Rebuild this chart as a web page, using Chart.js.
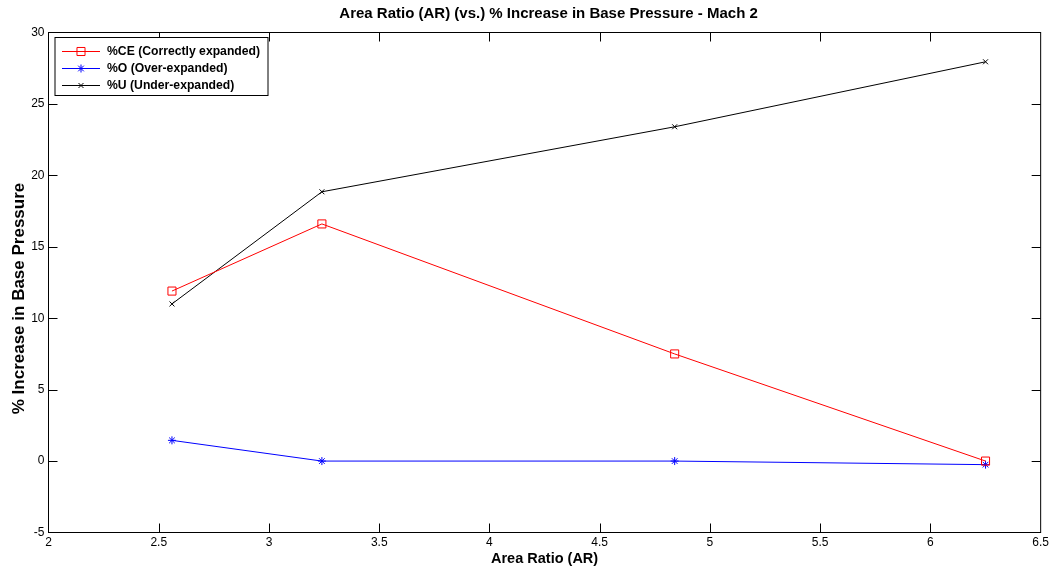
<!DOCTYPE html>
<html>
<head>
<meta charset="utf-8">
<title>Area Ratio vs % Increase in Base Pressure - Mach 2</title>
<script src="https://cdn.jsdelivr.net/npm/chart.js@4.4.1/dist/chart.umd.min.js"></script>
<style>
  html, body { margin: 0; padding: 0; background: #ffffff; }
  #wrap { width: 1052px; height: 569px; }
</style>
</head>
<body>
<div id="wrap"><canvas id="chart" width="1052" height="569"></canvas></div>
<script>
// Area ratios tested (x values)
const areaRatio = [2.56, 3.24, 4.84, 6.25];

// % increase in base pressure per expansion case
const pctCorrect = [11.9, 16.6, 7.5, 0.0];
const pctOver = [1.45, 0.0, 0.0, -0.25];
const pctUnder = [11.0, 18.85, 23.4, 27.95];

const seriesLabels = ['%CE (Correctly expanded)', '%O (Over-expanded)', '%U (Under-expanded)'];

// Axis ticks
const xTickValues = [2, 2.5, 3, 3.5, 4, 4.5, 5, 5.5, 6, 6.5];
const xTickLabels = ['2', '2.5', '3', '3.5', '4', '4.5', '5', '5.5', '6', '6.5'];
const yTickValues = [-5, 0, 5, 10, 15, 20, 25, 30];
const yTickLabels = ['-5', '0', '5', '10', '15', '20', '25', '30'];

const chartTitle = 'Area Ratio (AR) (vs.) % Increase in Base Pressure - Mach 2';
const xTitle = 'Area Ratio (AR)';
const yTitle = '% Increase in Base Pressure';

const FONT = '"Liberation Sans", Arial, Helvetica, sans-serif';

function toPoints(xs, ys) {
  return xs.map((x, i) => ({ x: x, y: ys[i] }));
}

// Boxed axes with inward tick marks on all four sides
const boxAxes = {
  id: 'boxAxes',
  afterDatasetsDraw(chart) {
    const { ctx, chartArea: a, scales } = chart;
    const len = 9;
    ctx.save();
    ctx.strokeStyle = '#000000';
    ctx.lineWidth = 1;
    ctx.beginPath();
    scales.x.ticks.forEach(t => {
      const px = Math.round(scales.x.getPixelForValue(t.value)) + 0.5;
      if (px <= a.left + 1 || px >= a.right - 1) return;
      ctx.moveTo(px, a.bottom); ctx.lineTo(px, a.bottom - len);
      ctx.moveTo(px, a.top); ctx.lineTo(px, a.top + len);
    });
    scales.y.ticks.forEach(t => {
      const py = Math.round(scales.y.getPixelForValue(t.value)) + 0.5;
      if (py <= a.top + 1 || py >= a.bottom - 1) return;
      ctx.moveTo(a.left, py); ctx.lineTo(a.left + len, py);
      ctx.moveTo(a.right, py); ctx.lineTo(a.right - len, py);
    });
    ctx.stroke();
    ctx.strokeRect(a.left, a.top, a.right - a.left, a.bottom - a.top);
    ctx.restore();
  }
};

// Titles: chart title above the axes box, axis titles outside it
const titles = {
  id: 'titles',
  afterDraw(chart) {
    const { ctx, chartArea: a } = chart;
    ctx.save();
    ctx.fillStyle = '#000000';
    ctx.textAlign = 'center';
    ctx.textBaseline = 'middle';
    ctx.font = 'bold 15px ' + FONT;
    ctx.fillText(chartTitle, (a.left + a.right) / 2 + 4, 14);
    ctx.font = 'bold 14.5px ' + FONT;
    ctx.fillText(xTitle, (a.left + a.right) / 2, 559);
    ctx.font = 'bold 17px ' + FONT;
    ctx.translate(19, (a.top + a.bottom) / 2 + 16);
    ctx.rotate(-Math.PI / 2);
    ctx.fillText(yTitle, 0, 0);
    ctx.restore();
  }
};

function drawMarker(ctx, style, x, y, r) {
  ctx.beginPath();
  if (style === 'rect') {
    const s = r * Math.SQRT1_2;
    ctx.rect(x - s, y - s, 2 * s, 2 * s);
  } else if (style === 'star') {
    const d = r * Math.SQRT1_2;
    ctx.moveTo(x - r, y); ctx.lineTo(x + r, y);
    ctx.moveTo(x, y - r); ctx.lineTo(x, y + r);
    ctx.moveTo(x - d, y - d); ctx.lineTo(x + d, y + d);
    ctx.moveTo(x - d, y + d); ctx.lineTo(x + d, y - d);
  } else if (style === 'crossRot') {
    const d = r * Math.SQRT1_2;
    ctx.moveTo(x - d, y - d); ctx.lineTo(x + d, y + d);
    ctx.moveTo(x - d, y + d); ctx.lineTo(x + d, y - d);
  }
  ctx.stroke();
}

// Legend box in the upper-left corner of the axes
const boxLegend = {
  id: 'boxLegend',
  afterDraw(chart) {
    const { ctx, chartArea: a } = chart;
    const left = a.left + 6.5, top = a.top + 5, w = 213, h = 58;
    ctx.save();
    ctx.fillStyle = '#ffffff';
    ctx.fillRect(left, top, w, h);
    ctx.strokeStyle = '#000000';
    ctx.lineWidth = 1;
    ctx.strokeRect(left, top, w, h);
    ctx.font = 'bold 12.2px ' + FONT;
    ctx.textBaseline = 'middle';
    ctx.textAlign = 'left';
    chart.data.datasets.forEach((ds, i) => {
      const y = Math.round(top + 13 + i * 17.3) + 0.5;
      ctx.strokeStyle = ds.borderColor;
      ctx.lineWidth = 1;
      ctx.beginPath();
      ctx.moveTo(left + 7, y); ctx.lineTo(left + 45, y);
      ctx.stroke();
      drawMarker(ctx, ds.pointStyle, left + 26, y, ds.pointRadius);
      ctx.fillStyle = '#000000';
      ctx.fillText(ds.label, left + 52, y + 0.5);
    });
    ctx.restore();
  }
};

const tickFont = { family: FONT, size: 12 };

new Chart(document.getElementById('chart'), {
  type: 'scatter',
  data: {
    datasets: [
      {
        label: seriesLabels[0],
        data: toPoints(areaRatio, pctCorrect),
        showLine: true,
        borderColor: '#ff0000',
        borderWidth: 1,
        pointStyle: 'rect',
        pointRadius: 5.7,
        pointBorderWidth: 1,
        pointBorderColor: '#ff0000',
        pointBackgroundColor: 'rgba(0,0,0,0)',
        tension: 0
      },
      {
        label: seriesLabels[1],
        data: toPoints(areaRatio, pctOver),
        showLine: true,
        borderColor: '#0000ff',
        borderWidth: 1,
        pointStyle: 'star',
        pointRadius: 4,
        pointBorderWidth: 1,
        pointBorderColor: '#0000ff',
        pointBackgroundColor: 'rgba(0,0,0,0)',
        tension: 0
      },
      {
        label: seriesLabels[2],
        data: toPoints(areaRatio, pctUnder),
        showLine: true,
        borderColor: '#000000',
        borderWidth: 1,
        pointStyle: 'crossRot',
        pointRadius: 3.5,
        pointBorderWidth: 1,
        pointBorderColor: '#000000',
        pointBackgroundColor: 'rgba(0,0,0,0)',
        tension: 0
      }
    ]
  },
  options: {
    responsive: false,
    animation: false,
    devicePixelRatio: 1,
    layout: { padding: { top: 32.5, right: 10.5, bottom: 0, left: 0 } },
    plugins: {
      legend: { display: false },
      title: { display: false },
      tooltip: { enabled: false }
    },
    scales: {
      x: {
        type: 'linear',
        min: 2,
        max: 6.5,
        grid: { display: false, drawTicks: false },
        border: { display: false },
        afterBuildTicks(scale) { scale.ticks = xTickValues.map(v => ({ value: v })); },
        afterFit(scale) { scale.height = 36.5; },
        ticks: {
          color: '#000000',
          font: tickFont,
          padding: 3,
          maxRotation: 0,
          autoSkip: false,
          callback: (v, i) => xTickLabels[i]
        }
      },
      y: {
        type: 'linear',
        min: -5,
        max: 30,
        grid: { display: false, drawTicks: false },
        border: { display: false },
        afterBuildTicks(scale) { scale.ticks = yTickValues.map(v => ({ value: v })); },
        afterFit(scale) { scale.width = 48.5; },
        ticks: {
          color: '#000000',
          font: tickFont,
          padding: 4,
          autoSkip: false,
          callback: (v, i) => yTickLabels[i]
        }
      }
    }
  },
  plugins: [boxAxes, titles, boxLegend]
});
</script>
</body>
</html>
